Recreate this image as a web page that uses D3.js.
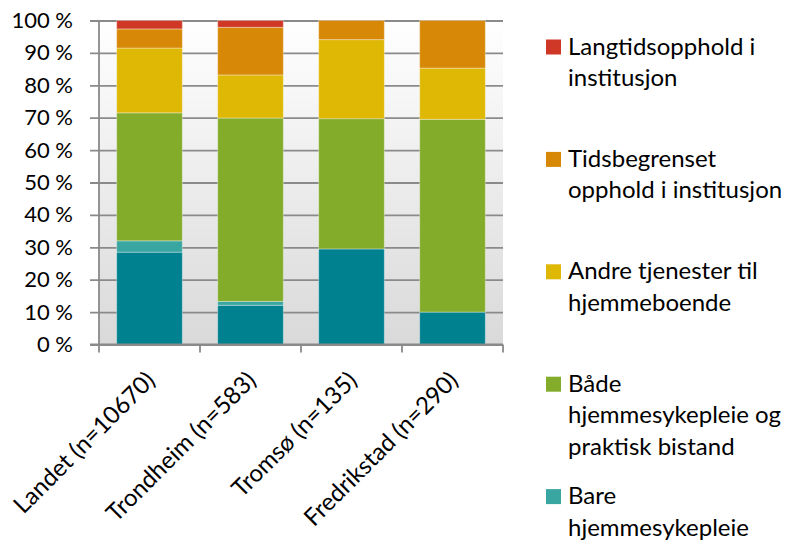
<!DOCTYPE html>
<html>
<head>
<meta charset="utf-8">
<script src="https://cdn.jsdelivr.net/npm/d3@7/dist/d3.min.js"></script>
<style>
  html, body { margin: 0; padding: 0; background: #ffffff; }
  svg { display: block; }
  text { font-family: Lato, "Open Sans", sans-serif; fill: #000; }
</style>
</head>
<body>
<svg id="chart" width="794" height="541"></svg>
<script>
// Municipalities compared
const categories = ["Landet (n=10670)", "Trondheim (n=583)", "Tromsø (n=135)", "Fredrikstad (n=290)"];

// Service types, stacked from the bottom up
const seriesNames = [
  "Bare praktisk bistand",
  "Bare hjemmesykepleie",
  "Både hjemmesykepleie og praktisk bistand",
  "Andre tjenester til hjemmeboende",
  "Tidsbegrenset opphold i institusjon",
  "Langtidsopphold i institusjon"
];
const seriesColors = ["#008190", "#3aa6a2", "#83ac2b", "#dfb705", "#d78806", "#cf3726"];

// Share (%) per municipality for each service type
const barePraktisk   = [28.5, 12.1, 29.5, 10.0];
const bareHjemmesyk  = [3.5, 1.2, 0.0, 0.0];
const baade          = [39.5, 56.6, 40.2, 59.5];
const andre          = [20.0, 13.3, 24.4, 15.8];
const tidsbegrenset  = [5.9, 14.7, 5.9, 14.7];
const langtid        = [2.6, 2.1, 0.0, 0.0];

const yTicks = [0, 10, 20, 30, 40, 50, 60, 70, 80, 90, 100];

// Legend text (top-down), wrapped as drawn
const legendLines = [
  ["Langtidsopphold i", "institusjon"],
  ["Tidsbegrenset", "opphold i institusjon"],
  ["Andre tjenester til", "hjemmeboende"],
  ["Både", "hjemmesykepleie og", "praktisk bistand"],
  ["Bare", "hjemmesykepleie"]
];
const legendColors = ["#cf3726", "#d78806", "#dfb705", "#83ac2b", "#3aa6a2"];

const seriesValues = [barePraktisk, bareHjemmesyk, baade, andre, tidsbegrenset, langtid];
const rows = categories.map((c, i) => {
  const r = { category: c };
  seriesNames.forEach((s, k) => { r[s] = seriesValues[k][i]; });
  return r;
});

const svg = d3.select("#chart");
const plotLeft = 99, plotRight = 503, plotTop = 20.5, plotBottom = 344.5;

const x = d3.scaleBand().domain(categories).range([plotLeft, plotRight]).paddingInner(0.35).paddingOuter(0.175);
const y = d3.scaleLinear().domain([0, 100]).range([plotBottom, plotTop]);

// Plot background gradient
const defs = svg.append("defs");
const grad = defs.append("linearGradient").attr("id", "bg").attr("x1", 0).attr("y1", 0).attr("x2", 0).attr("y2", 1);
grad.append("stop").attr("offset", "0%").attr("stop-color", "#ffffff");
grad.append("stop").attr("offset", "100%").attr("stop-color", "#d9d9d9");
svg.append("rect").attr("x", plotLeft).attr("y", plotTop).attr("width", plotRight - plotLeft).attr("height", plotBottom - plotTop)
  .attr("fill", "url(#bg)");

// Gridlines with left tick marks
const yAxis = d3.axisLeft(y).tickValues(yTicks).tickSize(-(plotRight - plotLeft)).tickSizeOuter(0).tickFormat(d => d + " %");
const gy = svg.append("g").attr("transform", `translate(${plotLeft},0)`).call(yAxis);
gy.select(".domain").remove();
gy.selectAll(".tick line").attr("stroke", "#8a8a8a").attr("stroke-width", 1.8).attr("x1", -9);
gy.selectAll(".tick text").attr("x", -26).attr("font-size", 22).attr("font-family", "Lato, sans-serif").attr("fill", "#000");

// Stacked bars
const stack = d3.stack().keys(seriesNames);
const layers = stack(rows);
svg.append("g").selectAll("g").data(layers).join("g")
  .attr("fill", (d, i) => seriesColors[i])
  .selectAll("rect").data(d => d.filter(p => p[1] - p[0] > 0)).join("rect")
  .attr("x", d => x(d.data.category))
  .attr("width", x.bandwidth())
  .attr("y", d => y(d[1]))
  .attr("height", d => y(d[0]) - y(d[1]))
  .attr("stroke", "rgba(255,255,255,0.35)")
  .attr("stroke-width", 1);

// Left axis line
svg.append("line").attr("x1", plotLeft).attr("x2", plotLeft).attr("y1", plotTop).attr("y2", plotBottom + 8)
  .attr("stroke", "#8a8a8a").attr("stroke-width", 1.8);

// Bottom axis with category boundary ticks
const boundaries = categories.map(c => x(c) - x.step() * x.paddingInner() / 2).concat([plotRight]);
svg.append("line").attr("x1", plotLeft - 9).attr("x2", plotRight).attr("y1", plotBottom).attr("y2", plotBottom)
  .attr("stroke", "#8a8a8a").attr("stroke-width", 1.8);
svg.append("g").selectAll("line").data(boundaries.slice(1)).join("line")
  .attr("x1", d => d).attr("x2", d => d).attr("y1", plotBottom).attr("y2", plotBottom + 8)
  .attr("stroke", "#8a8a8a").attr("stroke-width", 1.8);

// Rotated category labels
svg.append("g").selectAll("text").data(categories).join("text")
  .attr("transform", d => `translate(${x(d) + x.bandwidth() / 2 + 1},376) rotate(-45)`)
  .attr("text-anchor", "end")
  .attr("dy", "0.35em")
  .attr("font-size", 24)
  .text(d => d);

// Legend
const lg = svg.append("g");
const entry = lg.selectAll("g").data(legendLines).join("g")
  .attr("transform", (d, i) => `translate(546,${39.5 + i * 112.4})`);
entry.append("rect").attr("width", 15).attr("height", 15).attr("fill", (d, i) => legendColors[i]);
entry.each(function(lines) {
  const t = d3.select(this).append("text").attr("x", 22).attr("y", 15).attr("font-size", 24);
  lines.forEach((ln, j) => t.append("tspan").attr("x", 22).attr("dy", j === 0 ? 0 : 31.5).text(ln));
});
</script>
</body>
</html>
